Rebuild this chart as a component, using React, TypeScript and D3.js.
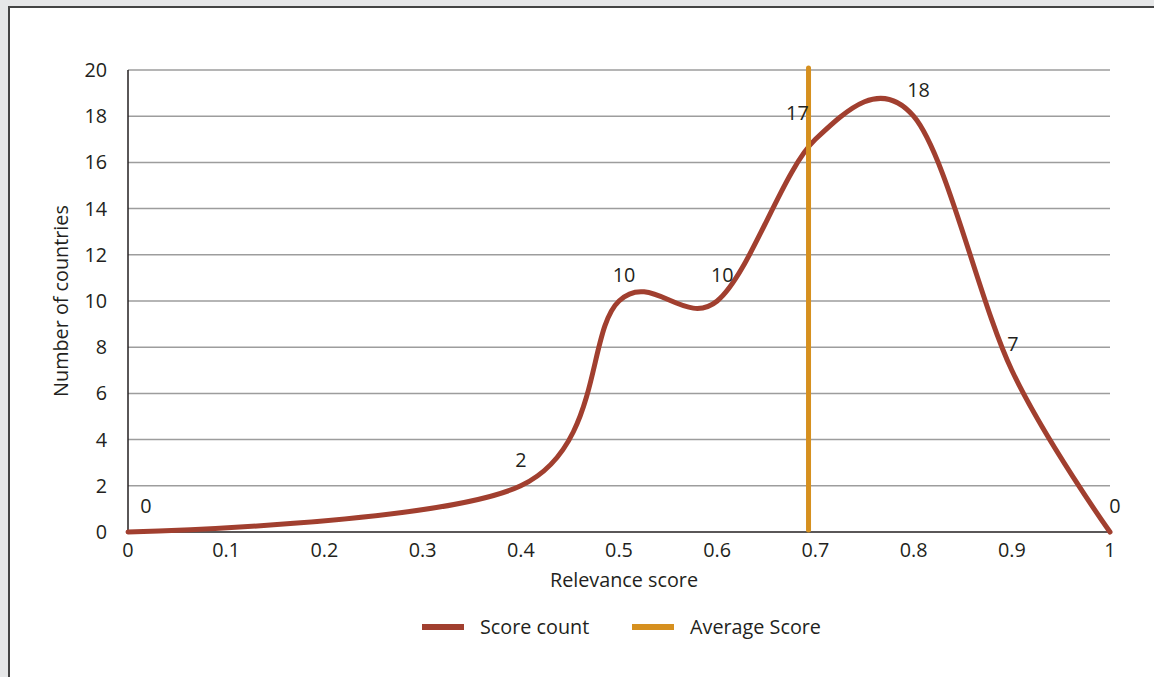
import * as d3 from "d3";

const scores = [0, 0.4, 0.5, 0.6, 0.7, 0.8, 0.9, 1];
const counts = [0, 2, 10, 10, 17, 18, 7, 0];
const averageScore = 0.693;
const xTicks = [0, 0.1, 0.2, 0.3, 0.4, 0.5, 0.6, 0.7, 0.8, 0.9, 1];
const yTicks = [0, 2, 4, 6, 8, 10, 12, 14, 16, 18, 20];
const seriesNames = ["Score count", "Average Score"];

const W = 1154;
const H = 677;
const left = 128;
const right = 1110;
const top = 70;
const bottom = 532;
const font = "'Open Sans', 'Noto Sans', sans-serif";
const fs = 19.8;
const brown = "#a13f2f";
const orange = "#d6901f";

const App = () => {
  const x = d3.scaleLinear().domain([0, 1]).range([left, right]);
  const y = d3.scaleLinear().domain([0, 20]).range([bottom, top]);

  const pts = scores.map((s, i) => [s, counts[i]] as [number, number]);
  const line = d3
    .line<[number, number]>()
    .x((d) => x(d[0]))
    .y((d) => y(d[1]))
    .curve(d3.curveCardinal.tension(0));

  // label nudges (the 17 was moved off the average line)
  const labelDx = (i: number) => (i === 0 ? 18 : i === 4 ? -18 : i === 1 ? 0 : i === 6 ? 1 : 5);

  return (
    <svg
      width={W}
      height={H}
      style={{ position: "absolute", left: 0, top: 0 }}
      fontFamily={font}
    >
      <rect x={0} y={0} width={W} height={H} fill="#e6e7e8" />
      <rect x={9} y={7} width={W} height={H} fill="#fff" stroke="#444" strokeWidth={2} />

      {yTicks.map((t) => (
        <g key={t}>
          {t > 0 && (
            <line x1={left} x2={right} y1={y(t)} y2={y(t)} stroke="#9d9d9d" strokeWidth={1.5} />
          )}
          <text x={107} y={y(t)} dy="0.35em" textAnchor="end" fontSize={fs} fill="#231f20">
            {t}
          </text>
        </g>
      ))}
      {xTicks.map((t) => (
        <text key={t} x={x(t)} y={557} textAnchor="middle" fontSize={fs} fill="#231f20">
          {t}
        </text>
      ))}
      <line x1={left} x2={left} y1={top} y2={bottom} stroke="#231f20" strokeWidth={1.5} />
      <line x1={left} x2={right} y1={bottom} y2={bottom} stroke="#231f20" strokeWidth={1.5} />

      <text x={624} y={587} textAnchor="middle" fontSize={fs} fill="#231f20">
        Relevance score
      </text>
      <text
        transform={`translate(68,${(top + bottom) / 2}) rotate(-90)`}
        textAnchor="middle"
        fontSize={fs}
        fill="#231f20"
      >
        Number of countries
      </text>

      <path d={line(pts) || ""} fill="none" stroke={brown} strokeWidth={5} strokeLinecap="round" />
      <line
        x1={x(averageScore)}
        x2={x(averageScore)}
        y1={y(20) - 2}
        y2={bottom - 2}
        stroke={orange}
        strokeWidth={5}
        strokeLinecap="round"
      />

      {pts.map((p, i) => (
        <text
          key={i}
          x={x(p[0]) + labelDx(i)}
          y={y(p[1]) - 26}
          dy="0.35em"
          textAnchor="middle"
          fontSize={fs}
          fill="#231f20"
        >
          {p[1]}
        </text>
      ))}

      {seriesNames.map((n, i) => (
        <g key={n} transform={`translate(${422 + i * 210},627)`}>
          <line x1={0} x2={42} y1={0} y2={0} stroke={i === 0 ? brown : orange} strokeWidth={6} />
          <text x={58} y={0} dy="0.35em" fontSize={fs} fill="#231f20">
            {n}
          </text>
        </g>
      ))}
    </svg>
  );
};

export default App;
